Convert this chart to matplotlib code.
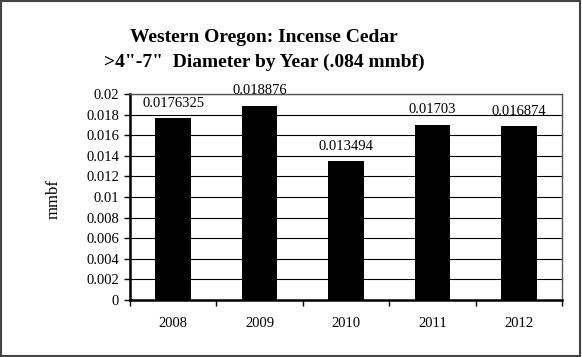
import matplotlib.pyplot as plt
from matplotlib.patches import Rectangle

years = ['2008', '2009', '2010', '2011', '2012']
values = [0.0176325, 0.018876, 0.013494, 0.01703, 0.016874]
labels = ['0.0176325', '0.018876', '0.013494', '0.01703', '0.016874']
yticks = [0, 0.002, 0.004, 0.006, 0.008, 0.01, 0.012, 0.014, 0.016, 0.018, 0.02]
ytick_labels = ['0', '0.002', '0.004', '0.006', '0.008', '0.01', '0.012', '0.014', '0.016', '0.018', '0.02']

plt.rcParams['font.family'] = 'Liberation Serif'

fig = plt.figure(figsize=(5.82, 3.57), dpi=100)
ax = fig.add_axes([130/582, 1 - 300/357, 432/582, 206/357])

x = range(len(years))
ax.bar(x, values, width=0.41, color='black', zorder=3)

# value labels above each bar
for i, v in enumerate(values):
    ax.annotate(labels[i], (i, v), xytext=(0, 6), textcoords='offset points',
                ha='center', va='bottom', fontsize=10.5, annotation_clip=False)

ax.set_xlim(-0.5, len(years) - 0.5)
ax.set_ylim(0, 0.02)
ax.set_yticks(yticks)
ax.set_yticklabels(ytick_labels, fontsize=10.5)
ax.set_xticks([i - 0.5 for i in range(len(years) + 1)])
ax.set_xticklabels([])
ax.set_xticks(list(x), minor=True)
ax.set_xticklabels(years, minor=True, fontsize=10.5)
ax.tick_params(axis='x', which='minor', length=0, pad=12)
ax.tick_params(axis='x', which='major', length=4, width=1)
ax.tick_params(axis='y', length=4, width=1, pad=4)

ax.grid(True, axis='y', color='black', linewidth=0.8, zorder=0)
ax.set_axisbelow(True)

for side in ['left', 'bottom']:
    ax.spines[side].set_linewidth(1.8)
    ax.spines[side].set_color('black')
for side in ['top', 'right']:
    ax.spines[side].set_linewidth(1)
    ax.spines[side].set_color('#555555')

fig.text(54/582, 1 - 199/357, 'mmbf', rotation=90, ha='center', va='center', fontsize=12)

fig.text(264/582, 1 - 37/357, 'Western Oregon: Incense Cedar', ha='center', va='center',
         fontsize=14, fontweight='bold')
fig.text(264/582, 1 - 62/357, '>4"-7"  Diameter by Year (.084 mmbf)', ha='center', va='center',
         fontsize=14, fontweight='bold')

fig.patches.append(Rectangle((0.002, 0.003), 0.995, 0.994, transform=fig.transFigure,
                             fill=False, edgecolor='#444444', linewidth=1.5))

fig.savefig('out.png', dpi=100)
